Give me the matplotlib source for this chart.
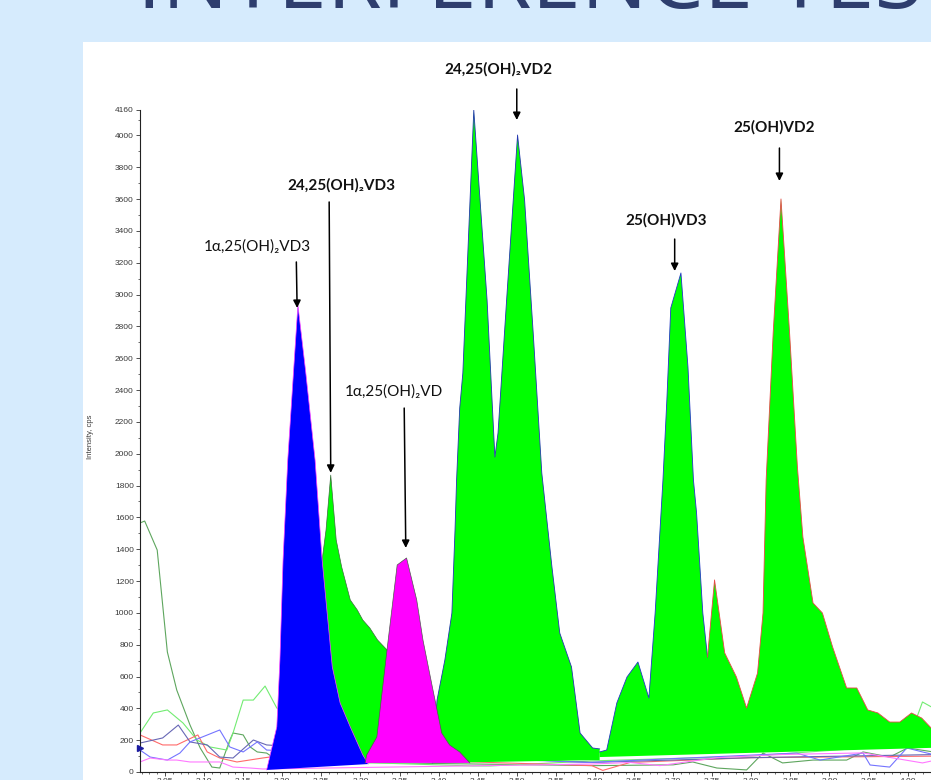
import matplotlib.pyplot as plt
import numpy as np
from matplotlib.patches import Rectangle
from matplotlib.ticker import MultipleLocator, FixedLocator

plt.switch_backend('Agg')
plt.rcParams['font.family'] = ['Lato', 'DejaVu Sans']

# retention time (min) / intensity (cps)

# 1a,25(OH)2VD3 - blue filled peak
vd3_1a_time = [3.180, 3.193, 3.197, 3.201, 3.207, 3.220, 3.230, 3.242, 3.251,
               3.264, 3.274, 3.287, 3.303, 3.310]
vd3_1a_int = [13, 283, 704, 1332, 1960, 2935, 2514, 1960, 1332, 660, 434, 283, 107, 50]

# 24,25(OH)2VD3 - small green peak
vd3_2425_time = [3.223, 3.238, 3.251, 3.256, 3.262, 3.269, 3.276, 3.287, 3.296,
                 3.303, 3.312, 3.322, 3.334, 3.344, 3.353, 3.363]
vd3_2425_int = [44, 578, 1332, 1521, 1866, 1458, 1288, 1081, 1018, 955, 905, 829,
                767, 452, 201, 63]

# 1a,25(OH)2VD - magenta filled peak
vd_1a_time = [3.306, 3.308, 3.321, 3.334, 3.347, 3.359, 3.372, 3.380, 3.392,
              3.404, 3.414, 3.427, 3.440]
vd_1a_int = [57, 107, 220, 767, 1301, 1345, 1081, 829, 534, 245, 170, 126, 57]

# 24,25(OH)2VD2 double peak - green
vd2_2425_time = [3.392, 3.398, 3.408, 3.417, 3.421, 3.423, 3.427, 3.431, 3.445,
                 3.453, 3.462, 3.472, 3.476, 3.487, 3.501, 3.510, 3.521, 3.532,
                 3.545, 3.555, 3.570, 3.581, 3.597, 3.606]
vd2_2425_int = [57, 452, 704, 999, 1521, 1835, 2287, 2507, 4160, 3594, 2966, 1979,
                2130, 2966, 4003, 3594, 2759, 1879, 1288, 873, 660, 245, 151, 145]

# 25(OH)VD3 and 25(OH)VD2 - green, last part of the run
vd_25_time = [3.606, 3.615, 3.628, 3.641, 3.655, 3.669, 3.677, 3.687, 3.692,
              3.697, 3.710, 3.719, 3.726, 3.730, 3.738, 3.744, 3.753, 3.766,
              3.781, 3.794, 3.808, 3.815, 3.819, 3.828, 3.838, 3.849, 3.859,
              3.866, 3.879, 3.891, 3.904, 3.922, 3.935, 3.949, 3.962, 3.977,
              3.990, 4.005, 4.018, 4.030, 4.047]
vd_25_int = [126, 138, 434, 597, 691, 465, 999, 1835, 2338, 2916, 3136, 2545,
             1835, 1628, 999, 723, 1207, 748, 597, 402, 622, 999, 1835, 2759,
             3601, 2759, 1917, 1477, 1062, 999, 786, 528, 528, 390, 371, 314,
             314, 371, 339, 277, 201]

# integration baselines (start, end) of each filled peak
vd3_1a_base = [13, 50]
vd3_2425_base = [44, 63]
vd_1a_base = [57, 57]
vd2_2425_base = [57, 75]
vd_25_base = [94, 154]

# other MRM traces (background noise)
dkgreen_time = [3.018, 3.024, 3.040, 3.053, 3.065, 3.082, 3.095, 3.110, 3.120,
                3.133, 3.137, 3.150, 3.159, 3.168, 3.180, 3.193, 3.300, 3.450,
                3.600, 3.700, 3.725, 3.756, 3.794, 3.815, 3.840, 3.879, 3.922,
                3.943, 3.977, 4.000, 4.041]
dkgreen_int = [1565, 1577, 1395, 754, 515, 295, 151, 31, 25, 201, 245, 233, 157,
               126, 119, 75, 60, 50, 40, 45, 63, 25, 13, 119, 57, 75, 75, 126,
               94, 151, 120]

ltgreen_time = [3.018, 3.035, 3.053, 3.073, 3.091, 3.108, 3.129, 3.137, 3.150,
                3.163, 3.178, 3.193, 3.300, 3.444, 3.466, 3.600, 3.800, 3.999,
                4.019, 4.041]
ltgreen_int = [245, 371, 390, 308, 201, 157, 138, 245, 452, 452, 540, 402, 60,
               38, 38, 70, 100, 170, 440, 380]

red_time = [3.018, 3.047, 3.065, 3.092, 3.104, 3.120, 3.142, 3.175, 3.184,
            3.400, 3.596, 3.610, 3.645, 3.800, 4.041]
red_int = [233, 170, 170, 233, 126, 88, 63, 88, 94, 70, 40, 10, 60, 90, 100]

dkblue_time = [3.018, 3.047, 3.067, 3.082, 3.104, 3.120, 3.137, 3.163, 3.180,
               3.400, 3.596, 3.800, 4.041]
dkblue_int = [182, 214, 295, 189, 170, 94, 88, 201, 170, 100, 60, 90, 110]

ltblue_time = [3.018, 3.031, 3.053, 3.069, 3.082, 3.120, 3.133, 3.150, 3.168,
               3.180, 3.592, 3.858, 3.888, 3.943, 3.952, 3.977, 3.999, 4.019, 4.041]
ltblue_int = [138, 94, 75, 119, 189, 264, 157, 126, 189, 138, 60, 119, 75, 119,
              44, 31, 151, 126, 100]

pink_time = [3.018, 3.031, 3.053, 3.065, 3.082, 3.099, 3.120, 3.137, 3.159,
             3.175, 3.596, 3.645, 3.683, 3.756, 3.840, 3.943, 4.019, 4.041]
pink_int = [63, 88, 75, 75, 63, 63, 63, 31, 25, 19, 50, 60, 40, 90, 110, 120, 57, 80]

y_ticks = list(range(0, 4001, 200)) + [4160]


def fill_peak(ax, t, y, base, face, z):
    # area between the trace and the straight integration baseline
    xs = np.r_[t, t[-1], t[0]]
    ys = np.r_[y, base[1], base[0]]
    ax.fill(xs, ys, color=face, lw=0, zorder=z)


def plot_chromatogram():
    fig = plt.figure(figsize=(9.31, 7.80), dpi=100)
    fig.patch.set_facecolor('#d6ebfd')
    fig.add_artist(Rectangle((83 / 931, 0), 1, 738 / 780, transform=fig.transFigure,
                             facecolor='white', edgecolor='none', zorder=-1))
    # slide title, mostly cut off by the top edge of the screenshot
    fig.text(137 / 931, 1 - 8 / 780, 'INTERFERENCE TEST', fontsize=64,
             color='#2e3e6e', ha='left', va='baseline', family='Open Sans')

    ax = fig.add_axes([140 / 931, 8 / 780, 820 / 931, 662 / 780])
    ax.set_facecolor('white')

    noise = [(dkgreen_time, dkgreen_int, '#5ea65e'),
             (ltgreen_time, ltgreen_int, '#72ec72'),
             (red_time, red_int, '#ff6a6a'),
             (dkblue_time, dkblue_int, '#6767b5'),
             (ltblue_time, ltblue_int, '#7474ff'),
             (pink_time, pink_int, '#ff78ff')]
    for t, y, c in noise:
        ax.plot(t, y, color=c, lw=0.8, zorder=1)

    fill_peak(ax, vd3_2425_time, vd3_2425_int, vd3_2425_base, '#00ff00', 2)
    ax.plot(vd3_2425_time, vd3_2425_int, color='#3c6a3c', lw=0.5, zorder=2.1)
    fill_peak(ax, vd2_2425_time, vd2_2425_int, vd2_2425_base, '#00ff00', 2)
    ax.plot(vd2_2425_time, vd2_2425_int, color='#2436b0', lw=0.6, zorder=2.1)
    fill_peak(ax, vd_25_time, vd_25_int, vd_25_base, '#00ff00', 2)
    ax.plot(vd_25_time[:16], vd_25_int[:16], color='#2436c8', lw=0.6, zorder=2.1)
    ax.plot(vd_25_time[15:], vd_25_int[15:], color='#e84848', lw=0.6, zorder=2.1)
    fill_peak(ax, vd3_1a_time, vd3_1a_int, vd3_1a_base, '#0000ff', 3)
    ax.plot(vd3_1a_time, vd3_1a_int, color='#ff44ff', lw=0.5, zorder=3.1)
    fill_peak(ax, vd_1a_time, vd_1a_int, vd_1a_base, '#ff00ff', 4)
    ax.plot(vd_1a_time, vd_1a_int, color='#4e5a4e', lw=0.5, zorder=4.1)

    ax.plot([3.018], [150], marker='>', color='#1c1ca0', ms=4, clip_on=False, zorder=5)

    ax.set_xlim(3.018, 4.067)
    ax.set_ylim(0, 4160)
    for s in ['top', 'right']:
        ax.spines[s].set_visible(False)
    for s in ['left', 'bottom']:
        ax.spines[s].set_color('#222222')
        ax.spines[s].set_linewidth(0.8)

    ax.yaxis.set_major_locator(FixedLocator(y_ticks))
    ax.yaxis.set_minor_locator(MultipleLocator(100))
    ax.xaxis.set_major_locator(MultipleLocator(0.05))
    ax.xaxis.set_minor_locator(MultipleLocator(0.01))
    ax.xaxis.set_major_formatter(lambda v, p: f"{v:.2f}")
    ax.tick_params(which='major', length=3, width=0.6, color='#333333',
                   labelsize=6, labelcolor='#3a3a3a', pad=1.5)
    ax.tick_params(which='minor', length=1.6, width=0.5, color='#333333')
    for lab in ax.get_xticklabels() + ax.get_yticklabels():
        lab.set_family('Liberation Sans')

    fig.text(91 / 931, 1 - 437 / 780, 'Intensity, cps', rotation=90, fontsize=5.5,
             color='#3a3a3a', ha='center', va='center', family='Liberation Sans')

    labels = [('1α,25(OH)₂VD3', 'normal', (3.168, 3305), (3.218, 3205), (3.219, 2916)),
              ('24,25(OH)₂VD3', 'bold', (3.276, 3689), (3.260, 3582), (3.262, 1880)),
              ('1α,25(OH)₂VD', 'normal', (3.343, 2388), (3.356, 2287), (3.358, 1408)),
              ('24,25(OH)₂VD2', 'bold', (3.476, 4418), (3.500, 4292), (3.500, 4097)),
              ('25(OH)VD3', 'bold', (3.691, 3469), (3.702, 3349), (3.702, 3148)),
              ('25(OH)VD2', 'bold', (3.829, 4053), (3.836, 3921), (3.836, 3714))]
    for text, weight, pos, start, tip in labels:
        ax.text(pos[0], pos[1], text, fontsize=11, fontweight=weight, color='#111111',
                ha='center', va='center', clip_on=False, zorder=6)
        ax.annotate('', xy=tip, xytext=start, annotation_clip=False, zorder=6,
                    arrowprops=dict(arrowstyle='-|>', color='black', lw=1.1,
                                    mutation_scale=11, shrinkA=0, shrinkB=0))

    fig.savefig('out.png', dpi=100)


if __name__ == "__main__":
    plot_chromatogram()
